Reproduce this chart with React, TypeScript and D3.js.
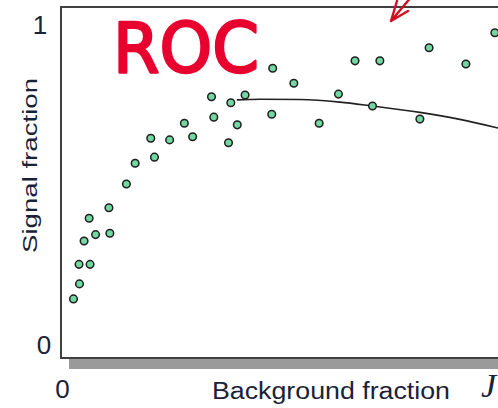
import { useEffect, useRef } from 'react';
import * as d3 from 'd3';

// signal vs background fraction
const bgFraction = [
  0.025, 0.038, 0.037, 0.061, 0.048, 0.073, 0.104, 0.059, 0.102, 0.14,
  0.159, 0.201, 0.193, 0.234, 0.284, 0.266, 0.362, 0.33, 0.381, 0.325,
  0.367, 0.398, 0.456, 0.458, 0.504, 0.559, 0.601, 0.637, 0.691, 0.675,
  0.778, 0.798, 0.878, 0.941,
];
const sigFraction = [
  0.144, 0.191, 0.252, 0.252, 0.325, 0.345, 0.349, 0.396, 0.429, 0.503,
  0.568, 0.587, 0.646, 0.641, 0.651, 0.693, 0.632, 0.712, 0.688, 0.776,
  0.757, 0.781, 0.721, 0.865, 0.818, 0.693, 0.784, 0.888, 0.888, 0.747,
  0.706, 0.929, 0.878, 0.976,
];

// the fitted curve
const fitX = [0.38, 0.43, 0.517, 0.604, 0.674, 0.778, 0.865, 0.948];
const fitY = [0.766, 0.768, 0.767, 0.759, 0.747, 0.727, 0.705, 0.678];

const yTicks = [0, 1];
const xTicks = [0];

const App = () => {
  const svgRef = useRef<SVGSVGElement>(null);

  useEffect(() => {
    const width = 498;
    const height = 408;
    const ink = '#1a2238';

    const xScale = d3.scaleLinear().domain([0, 1]).range([62, 522]);
    const yScale = d3.scaleLinear().domain([0, 1]).range([345, 25]);

    const svg = d3.select(svgRef.current);
    svg.selectAll('*').remove();
    svg.attr('width', width).attr('height', height);

    svg.append('rect').attr('width', width).attr('height', height).attr('fill', 'white');

    // grey shadow under the x axis
    svg.append('rect')
      .attr('x', 69).attr('y', 359)
      .attr('width', width - 69).attr('height', 10)
      .attr('fill', '#9a9a9a');

    // frame: left, top and bottom lines (right side is cut off)
    svg.append('path')
      .attr('d', `M${width},7 H61 V358 H${width}`)
      .attr('fill', 'none')
      .attr('stroke', '#404040')
      .attr('stroke-width', 2);

    // tick labels
    svg.selectAll('.ytick')
      .data(yTicks)
      .join('text')
      .attr('x', d => (d === 1 ? 40 : 44))
      .attr('y', d => yScale(d) + 8.5)
      .attr('text-anchor', 'middle')
      .attr('font-family', 'Liberation Sans, Arial, sans-serif')
      .attr('font-size', 26)
      .attr('fill', ink)
      .text(d => d);

    svg.selectAll('.xtick')
      .data(xTicks)
      .join('text')
      .attr('x', d => xScale(d) + 0.5)
      .attr('y', 398)
      .attr('text-anchor', 'middle')
      .attr('font-family', 'Liberation Sans, Arial, sans-serif')
      .attr('font-size', 26)
      .attr('fill', ink)
      .text(d => d);

    // axis titles
    svg.append('text')
      .attr('x', 212)
      .attr('y', 399)
      .attr('font-family', 'Liberation Sans, Arial, sans-serif')
      .attr('font-size', 23)
      .attr('textLength', 238)
      .attr('lengthAdjust', 'spacingAndGlyphs')
      .attr('fill', ink)
      .text('Background fraction');

    svg.append('text')
      .attr('transform', 'translate(37,253) rotate(-90)')
      .attr('font-family', 'Liberation Sans, Arial, sans-serif')
      .attr('font-size', 21)
      .attr('textLength', 175)
      .attr('lengthAdjust', 'spacingAndGlyphs')
      .attr('fill', ink)
      .text('Signal fraction');

    // cut-off italic letter at the bottom right
    svg.append('text')
      .attr('x', 481)
      .attr('y', 397)
      .attr('font-family', 'Liberation Serif, serif')
      .attr('font-style', 'italic')
      .attr('font-size', 34)
      .attr('fill', ink)
      .text('J');

    // fitted curve
    const line = d3.line<number>()
      .x(d => xScale(fitX[d]))
      .y(d => yScale(fitY[d]))
      .curve(d3.curveMonotoneX);

    svg.append('path')
      .datum(d3.range(fitX.length))
      .attr('fill', 'none')
      .attr('stroke', '#222')
      .attr('stroke-width', 1.6)
      .attr('d', line);

    // points
    svg.selectAll('.pt')
      .data(d3.range(bgFraction.length))
      .join('circle')
      .attr('cx', d => xScale(bgFraction[d]))
      .attr('cy', d => yScale(sigFraction[d]))
      .attr('r', 3.8)
      .attr('fill', '#72d8a2')
      .attr('stroke', '#1e1e1e')
      .attr('stroke-width', 1.5);

    // handwritten annotation
    svg.append('text')
      .attr('x', 113)
      .attr('y', 72)
      .attr('font-family', 'DejaVu Sans, sans-serif')
      .attr('font-size', 70)
      .attr('textLength', 146)
      .attr('lengthAdjust', 'spacingAndGlyphs')
      .attr('fill', '#e8002f')
      .attr('stroke', '#e8002f')
      .attr('stroke-width', 2.5)
      .attr('stroke-linejoin', 'round')
      .text('ROC');

    svg.append('path')
      .attr('d', 'M397,1 L391,21 L408,11 M391,21 L412,-4')
      .attr('fill', 'none')
      .attr('stroke', '#d0101e')
      .attr('stroke-width', 2.4)
      .attr('stroke-linecap', 'round')
      .attr('stroke-linejoin', 'round');
  }, []);

  return (
    <svg
      ref={svgRef}
      style={{ position: 'absolute', left: 0, top: 0, display: 'block' }}
    ></svg>
  );
};

export default App;
